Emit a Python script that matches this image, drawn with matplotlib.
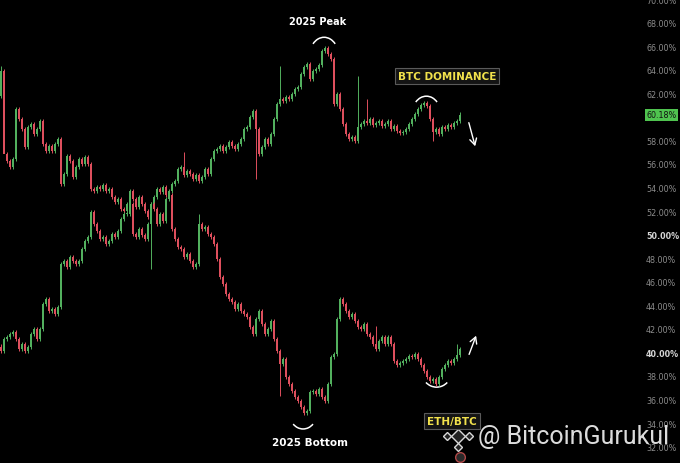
import numpy as np
import matplotlib
matplotlib.use("Agg")
from matplotlib import pyplot as plt
from matplotlib.patches import Arc
from matplotlib.transforms import blended_transform_factory

GREEN = "#52b05e"
RED = "#de4f5d"
WICK = 0.2  # default wick length beyond the body, in %

# BTC dominance closes (%), one per candle
btc_close = [
    63.89, 56.84, 56.25, 55.74, 56.42, 60.66, 59.81, 58.96, 57.44, 59.13,
    59.39, 58.54, 58.96, 59.64, 57.69, 57.10, 57.52, 57.10, 57.69, 58.12,
    54.30, 55.14, 56.67, 56.25, 54.89, 55.74, 56.42, 55.99, 56.59, 55.99,
    53.87, 53.70, 54.04, 53.87, 54.21, 53.70, 53.87, 53.19, 52.77, 53.02,
    52.17, 52.00, 52.60, 53.70, 53.02, 52.34, 53.19, 52.60, 52.00, 51.49,
    52.60, 53.19, 53.87, 53.62, 54.04, 53.36, 53.70, 54.30, 54.55, 55.57,
    55.74, 55.06, 55.40, 55.14, 54.72, 55.06, 54.55, 54.89, 55.57, 55.14,
    56.42, 57.10, 57.27, 57.52, 57.10, 57.44, 57.86, 57.52, 57.27, 57.69,
    58.12, 58.96, 59.13, 59.98, 60.49, 58.96, 56.84, 57.44, 58.12, 57.69,
    58.54, 59.81, 61.09, 61.51, 61.34, 61.68, 61.51, 61.94, 62.36, 62.53,
    63.63, 64.23, 64.48, 63.21, 63.89, 64.06, 64.40, 65.59, 65.84, 65.33,
    64.91, 61.09, 61.94, 60.66, 59.39, 58.54, 58.12, 58.29, 57.95, 59.13,
    59.39, 59.64, 59.47, 59.81, 59.30, 59.47, 59.64, 59.22, 59.39, 59.64,
    58.96, 59.22, 58.79, 58.63, 58.71, 58.96, 59.39, 59.81, 60.24, 60.66,
    61.00, 61.17, 60.92, 59.81, 58.71, 58.96, 58.54, 59.13, 58.96, 59.30,
    59.13, 59.47, 59.64, 60.18,
]
btc_first_open = 61.8
btc_wick_idx = [0, 1, 61, 85, 93, 119, 122, 144]
btc_wick_val = [64.3, 61.9, 57.0, 54.7, 64.3, 63.5, 61.5, 57.95]

# ETH/BTC closes (scaled to the same % axis)
eth_close = [
    40.12, 41.14, 41.31, 41.56, 41.73, 41.14, 40.29, 40.71, 40.12, 40.46,
    41.56, 41.99, 41.14, 41.99, 44.11, 44.53, 43.51, 43.68, 43.26, 43.85,
    47.50, 47.76, 47.25, 48.10, 47.76, 47.50, 47.76, 48.78, 49.46, 49.80,
    51.92, 50.90, 50.31, 49.63, 49.80, 49.20, 49.46, 50.05, 49.80, 50.31,
    51.32, 51.75, 51.75, 52.60, 50.05, 49.80, 50.48, 49.97, 49.63, 50.90,
    52.60, 52.17, 50.90, 51.75, 51.15, 53.02, 53.36, 50.48, 49.63, 48.95,
    48.78, 48.10, 48.35, 47.76, 47.25, 47.50, 50.90, 50.48, 50.65, 50.05,
    49.80, 49.20, 47.93, 46.40, 45.81, 44.96, 44.53, 44.28, 43.68, 44.11,
    43.51, 43.26, 43.00, 42.16, 41.56, 42.84, 43.51, 42.41, 41.56, 41.99,
    42.67, 41.14, 40.12, 39.02, 39.44, 37.91, 37.32, 36.72, 36.21, 35.87,
    35.37, 34.86, 35.03, 36.64, 36.72, 36.47, 36.89, 36.21, 35.87, 37.32,
    39.61, 39.86, 42.84, 44.53, 44.11, 43.51, 43.00, 43.26, 42.67, 42.16,
    41.99, 42.41, 41.56, 41.31, 40.71, 40.29, 40.97, 41.31, 40.71, 41.31,
    40.71, 39.27, 38.93, 39.10, 39.27, 39.44, 39.69, 39.61, 39.86, 39.44,
    38.93, 38.42, 37.91, 37.57, 37.74, 37.32, 37.91, 38.59, 38.93, 39.27,
    39.10, 39.44, 39.78, 40.29,
]
eth_first_open = 40.5
eth_wick_idx = [43, 50, 66, 93, 125, 152]
eth_wick_val = [53.0, 47.1, 51.75, 36.3, 42.24, 40.71]

# right-axis labels (60.00% sits under the last-price tag)
pct_ticks = [32, 34, 36, 38, 40, 42, 44, 46, 48, 50,
             52, 54, 56, 58, 62, 64, 66, 68, 70]
last_price = 60.18


def draw_candles(ax, closes, first_open, wick_idx, wick_val):
    closes = np.asarray(closes, dtype=float)
    opens = np.concatenate([[first_open], closes[:-1]])
    x = np.arange(len(closes))
    top = np.maximum(opens, closes)
    bot = np.minimum(opens, closes)
    highs = top + WICK
    lows = bot - WICK
    for i, v in zip(wick_idx, wick_val):
        if v > top[i]:
            highs[i] = v
        else:
            lows[i] = v
    colors = np.where(closes >= opens, GREEN, RED)
    ax.vlines(x, lows, highs, colors=colors, linewidth=0.7)
    ax.bar(x, np.maximum(top - bot, 0.12), bottom=bot, width=0.75,
           color=colors, linewidth=0)


fig = plt.figure(figsize=(6.8, 4.64), dpi=100, facecolor="black")
ax = fig.add_axes([0, 0, 635 / 680, 1])
ax.set_facecolor("black")

draw_candles(ax, btc_close, btc_first_open, btc_wick_idx, btc_wick_val)
draw_candles(ax, eth_close, eth_first_open, eth_wick_idx, eth_wick_val)

ax.set_xlim(-0.33, 211.33)
ax.set_ylim(70 - 464 / 11.78, 70)
for s in ax.spines.values():
    s.set_visible(False)
ax.set_xticks([])
ax.yaxis.tick_right()
ax.set_yticks(pct_ticks)
ax.set_yticklabels([f"{t:.2f}%" for t in pct_ticks])
ax.tick_params(axis="y", length=0, pad=8, labelsize=5.8, labelcolor="#8c8c8c")
for lab, t in zip(ax.get_yticklabels(), pct_ticks):
    if t in (40, 50):
        lab.set_fontweight("bold")
        lab.set_color("#d6d6d6")

# last price tag
tr = blended_transform_factory(ax.transAxes, ax.transData)
ax.text(1.0175, last_price, f"{last_price:.2f}%", transform=tr, fontsize=5.8,
        color="#111111", ha="left", va="center", clip_on=False,
        bbox=dict(boxstyle="square,pad=0.2", fc="#4fc34f", ec="none"))

# arcs around the turning points
pk = int(np.argmax(btc_close))
pk2 = 130 + int(np.argmax(btc_close[130:]))
bt = int(np.argmin(eth_close))
bt2 = 130 + int(np.argmin(eth_close[130:]))
arc_kw = dict(color="white", lw=1.1)
ax.add_patch(Arc((pk - 0.3, 65.2), 9.6, 3.1, theta1=15, theta2=165, **arc_kw))
ax.add_patch(Arc((pk2 + 0.8, 60.3), 9.4, 2.9, theta1=15, theta2=165, **arc_kw))
ax.add_patch(Arc((bt - 0.3, 34.8), 9.0, 2.6, theta1=195, theta2=345, **arc_kw))
ax.add_patch(Arc((bt2 + 0.2, 38.4), 10.0, 2.7, theta1=195, theta2=345, **arc_kw))

ax.text(105.7, 68.13, "2025 Peak", color="white", fontsize=7,
        fontweight="bold", ha="center", va="center")
ax.text(103, 32.39, "2025 Bottom", color="white", fontsize=7.5,
        fontweight="bold", ha="center", va="center")

box_kw = dict(boxstyle="square,pad=0.3", fc="#141414", ec="#5a5a5a", lw=0.8)
ax.text(148.7, 63.46, "BTC DOMINANCE", color="#f2e24c", fontsize=7.5,
        fontweight="bold", ha="center", va="center", bbox=box_kw)
ax.text(150.3, 34.18, "ETH/BTC", color="#f2e24c", fontsize=7.5,
        fontweight="bold", ha="center", va="center", bbox=box_kw)

arrow_kw = dict(arrowstyle="->,head_length=0.45,head_width=0.25",
                color="white", lw=1.0)
ax.annotate("", xy=(158.3, 57.27), xytext=(155.7, 59.73), arrowprops=arrow_kw)
ax.annotate("", xy=(158.7, 41.64), xytext=(155.7, 39.61), arrowprops=arrow_kw)

# watermark
fig.text(478 / 680, 1 - 437 / 464, "@ BitcoinGurukul", fontsize=18,
         color="#dcdcdc", ha="left", va="center", family="Roboto")
cx, cy = 458 / 680, 1 - 437 / 464
dx, dy = 11 / 680, 11 / 464
ax.plot([cx], [cy], marker="D", ms=7.5, mfc="#222222", mec="#d8d8d8",
        transform=fig.transFigure, clip_on=False)
ax.plot([cx - dx, cx + dx, cx, cx], [cy, cy, cy + dy, cy - dy], ls="none",
        marker="D", ms=4.5, mfc="#222222", mec="#d8d8d8",
        transform=fig.transFigure, clip_on=False)
ax.plot([460 / 680], [1 - 458 / 464], marker="o", ms=7, mfc="#2a2a2a",
        mec="#b04848", transform=fig.transFigure, clip_on=False)

fig.savefig("out.png", dpi=100, facecolor="black")
